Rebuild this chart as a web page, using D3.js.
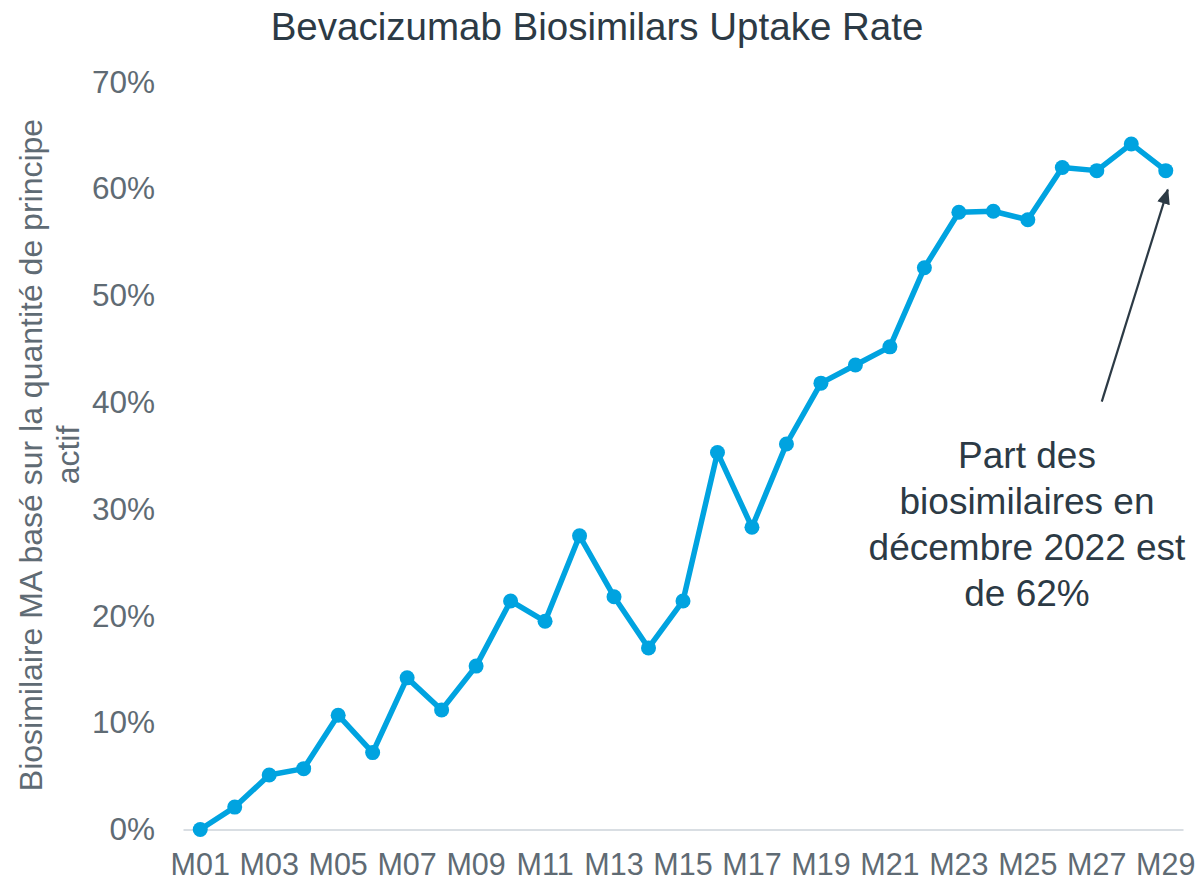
<!DOCTYPE html>
<html>
<head>
<meta charset="utf-8">
<script src="https://cdn.jsdelivr.net/npm/d3@7"></script>
<style>
  html, body { margin: 0; padding: 0; background: #ffffff; }
  svg { display: block; }
  text { font-family: "Liberation Sans", Arial, sans-serif; }
</style>
</head>
<body>
<script>
// ---- data ----
const months = ["M01","M02","M03","M04","M05","M06","M07","M08","M09","M10",
                "M11","M12","M13","M14","M15","M16","M17","M18","M19","M20",
                "M21","M22","M23","M24","M25","M26","M27","M28","M29"];
const uptake = [0.000, 0.021, 0.051, 0.057, 0.107, 0.072, 0.142, 0.112, 0.153, 0.214,
                0.195, 0.275, 0.218, 0.170, 0.214, 0.353, 0.283, 0.361, 0.418, 0.435,
                0.452, 0.526, 0.578, 0.579, 0.571, 0.620, 0.617, 0.642, 0.617];
const yTicks = [0, 0.1, 0.2, 0.3, 0.4, 0.5, 0.6, 0.7];
const xTickLabels = months.filter((d, i) => i % 2 === 0);
const titleText = "Bevacizumab Biosimilars Uptake Rate";
const yLabelLines = ["Biosimilaire MA basé sur la quantité de principe", "actif"];
const noteLines = ["Part des", "biosimilaires en", "décembre 2022 est", "de 62%"];

// ---- layout ----
const W = 1199, H = 882;
const lineColor = "#00a3e0";
const tickColor = "#5f6b74";
const darkText = "#2c3a45";

const svg = d3.select("body").append("svg").attr("width", W).attr("height", H);

const x = d3.scaleBand().domain(months).range([183, 1183]);
const xc = d => x(d) + x.bandwidth() / 2;
const y = d3.scaleLinear().domain([0, 0.7]).range([829.5, 82]);

// title
svg.append("text")
  .attr("x", 597).attr("y", 40)
  .attr("text-anchor", "middle")
  .attr("font-size", 38.5).attr("fill", darkText)
  .text(titleText);

// y axis (labels only)
const yAxis = d3.axisLeft(y).tickValues(yTicks).tickFormat(d3.format(".0%")).tickSize(0).tickPadding(0);
const gy = svg.append("g").attr("transform", "translate(155,0)").call(yAxis);
gy.select(".domain").remove();
gy.selectAll("text").attr("font-size", 31.5).attr("fill", tickColor)
  .attr("font-family", "Liberation Sans, Arial, sans-serif");

// x axis
const xAxis = d3.axisBottom(x).tickValues(xTickLabels).tickSize(0).tickPadding(0);
const gx = svg.append("g").attr("transform", `translate(0,${y(0)})`).call(xAxis);
gx.select(".domain").attr("stroke", "#d9dee3").attr("stroke-width", 2);
gx.selectAll("text").attr("font-size", 30.5).attr("fill", tickColor)
  .attr("font-family", "Liberation Sans, Arial, sans-serif")
  .attr("dy", null).attr("y", 45);

// y axis label
const yl = svg.append("text")
  .attr("transform", "translate(42,455) rotate(-90)")
  .attr("text-anchor", "middle")
  .attr("font-size", 32).attr("fill", tickColor);
yLabelLines.forEach((t, i) => {
  yl.append("tspan").attr("x", 0).attr("y", i * 37).text(t);
});

// line
const line = d3.line().x((d, i) => xc(months[i])).y(d => y(d));
svg.append("path")
  .datum(uptake)
  .attr("d", line)
  .attr("fill", "none")
  .attr("stroke", lineColor)
  .attr("stroke-width", 5.5)
  .attr("stroke-linejoin", "round");

svg.selectAll("circle.pt")
  .data(uptake)
  .join("circle")
  .attr("class", "pt")
  .attr("cx", (d, i) => xc(months[i]))
  .attr("cy", d => y(d))
  .attr("r", 7.5)
  .attr("fill", lineColor);

// annotation arrow
const last = months.length - 1;
const tipX = xc(months[last]) + 2, tipY = y(uptake[last]) + 19;
const tailX = tipX - 66, tailY = tipY + 212;
svg.append("defs").append("marker")
  .attr("id", "arrow").attr("viewBox", "0 0 12 10")
  .attr("refX", 11).attr("refY", 5)
  .attr("markerWidth", 16).attr("markerHeight", 13)
  .attr("markerUnits", "userSpaceOnUse")
  .attr("orient", "auto")
  .append("path").attr("d", "M0,0 L12,5 L0,10 Z").attr("fill", darkText);
svg.append("line")
  .attr("x1", tailX).attr("y1", tailY)
  .attr("x2", tipX).attr("y2", tipY)
  .attr("stroke", darkText).attr("stroke-width", 2.2)
  .attr("marker-end", "url(#arrow)");

// annotation text
const note = svg.append("text")
  .attr("text-anchor", "middle")
  .attr("font-size", 37).attr("fill", darkText);
noteLines.forEach((t, i) => {
  note.append("tspan").attr("x", 1027).attr("y", 468 + i * 46).text(t);
});
</script>
</body>
</html>
